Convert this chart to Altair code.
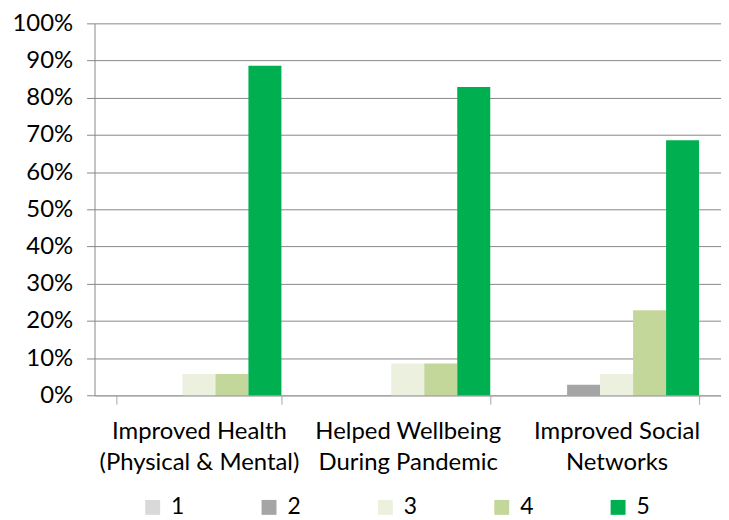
import altair as alt
import pandas as pd

categories = ["Improved Health\n(Physical & Mental)", "Helped Wellbeing\nDuring Pandemic", "Improved Social\nNetworks"]
ratings = ["1", "2", "3", "4", "5"]
colors = ["#d9d9d9", "#a5a5a5", "#ebf1de", "#c4d79b", "#00b050"]
values = {
    "1": [0.0, 0.0, 0.0],
    "2": [0.0, 0.0, 0.0286],
    "3": [0.0571, 0.0857, 0.0571],
    "4": [0.0571, 0.0857, 0.2286],
    "5": [0.8857, 0.8286, 0.6857],
}

rows = []
for r in ratings:
    for c, v in zip(categories, values[r]):
        rows.append({"category": c, "rating": r, "value": v})
df = pd.DataFrame(rows)

FONT = "Lato"

chart = alt.Chart(df).mark_bar().encode(
    x=alt.X("category:N", sort=categories, title=None,
            scale=alt.Scale(paddingInner=0.21, paddingOuter=0.105),
            axis=alt.Axis(labelAngle=0, labelExpr="split(datum.label, '\\n')",
                          labelFontSize=24, labelFont=FONT, labelColor="#000000",
                          labelLineHeight=32, labelPadding=15, labelBaseline="top",
                          labelLimit=300,
                          tickBand="extent", tickSize=9, tickColor="#a6a6a6",
                          domainColor="#a6a6a6", domainWidth=1.5, grid=False)),
    xOffset=alt.XOffset("rating:N", sort=ratings,
                        scale=alt.Scale(paddingInner=0, paddingOuter=0)),
    y=alt.Y("value:Q", title=None,
            scale=alt.Scale(domain=[0, 1]),
            axis=alt.Axis(format=".0%", values=[i / 10 for i in range(11)],
                          labelFontSize=24, labelFont=FONT, labelColor="#000000",
                          labelPadding=14, tickSize=8, tickColor="#888888",
                          domainColor="#888888", gridColor="#888888", gridWidth=1)),
    color=alt.Color("rating:N", sort=ratings,
                    scale=alt.Scale(domain=ratings, range=colors),
                    legend=alt.Legend(title=None, orient="none", direction="horizontal",
                                      legendX=47, legendY=475, columns=5,
                                      symbolType="square", symbolSize=225,
                                      symbolStrokeWidth=0,
                                      labelFontSize=23, labelFont=FONT, labelColor="#000000",
                                      labelOffset=7, columnPadding=73)),
).properties(
    width=630, height=374,
    autosize=alt.AutoSizeParams(type="none"),
    padding={"left": 87, "top": 14, "right": 0, "bottom": 124},
).configure_view(stroke=None).configure_axisY(domainColor="#888888")

chart.save("out.html", embed_options={"renderer": "svg", "actions": False})
